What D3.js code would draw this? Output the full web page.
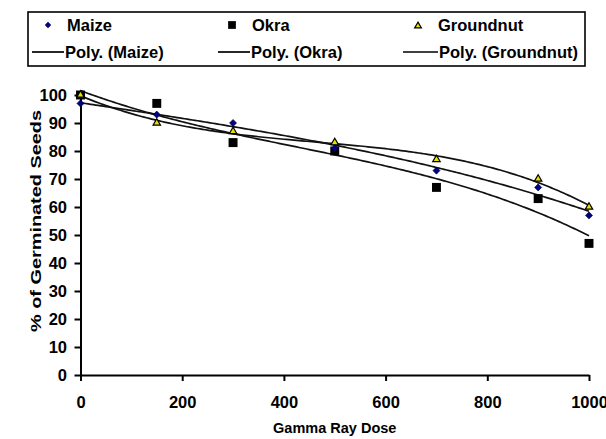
<!DOCTYPE html>
<html>
<head>
<meta charset="utf-8">
<script src="https://cdn.jsdelivr.net/npm/d3@7"></script>
<style>
  body { margin: 0; background: #fff; }
  text { font-family: "Liberation Sans", Arial, sans-serif; font-weight: bold; fill: #000; }
</style>
</head>
<body>
<div id="chart"></div>
<script>
const width = 606;
const height = 439;

// gamma ray dose (x) and % germinated seeds for each crop
const doses = [0, 150, 300, 500, 700, 900, 1000];
const maize = [97, 93, 90, 81, 73, 67, 57];
const okra = [100, 97, 83, 80, 67, 63, 47];
const groundnut = [100, 90, 87, 83, 77, 70, 60];
const yTicks = [0, 10, 20, 30, 40, 50, 60, 70, 80, 90, 100];
const xTicks = [0, 200, 400, 600, 800, 1000];

const svg = d3.select('#chart')
  .append('svg')
  .attr('width', width)
  .attr('height', height);

const x = d3.scaleLinear().domain([0, 1000]).range([80.5, 589]);
const y = d3.scaleLinear().domain([0, 100]).range([375, 95]);

// least squares polynomial, like Excel's "Poly." trendline
function polyFit(xs, ys, order) {
  const n = order + 1;
  const A = [];
  for (let i = 0; i < n; i++) {
    A.push(new Array(n + 1).fill(0));
  }
  xs.forEach((xv, k) => {
    const t = xv / 1000;
    for (let i = 0; i < n; i++) {
      for (let j = 0; j < n; j++) A[i][j] += Math.pow(t, i + j);
      A[i][n] += Math.pow(t, i) * ys[k];
    }
  });
  for (let i = 0; i < n; i++) {
    let p = i;
    for (let r = i + 1; r < n; r++) if (Math.abs(A[r][i]) > Math.abs(A[p][i])) p = r;
    [A[i], A[p]] = [A[p], A[i]];
    for (let r = 0; r < n; r++) {
      if (r === i) continue;
      const f = A[r][i] / A[i][i];
      for (let c = i; c <= n; c++) A[r][c] -= f * A[i][c];
    }
  }
  const coef = A.map((row, i) => row[n] / row[i]);
  return xv => coef.reduce((s, c, i) => s + c * Math.pow(xv / 1000, i), 0);
}

// axes
const yAxis = svg.append('g')
  .attr('transform', `translate(${x(0)},0)`)
  .call(d3.axisLeft(y).tickValues(yTicks).tickSize(6).tickSizeOuter(0).tickPadding(7.5));

const xAxis = svg.append('g')
  .attr('transform', `translate(0,${y(0)})`)
  .call(d3.axisBottom(x).tickValues(xTicks).tickFormat(d3.format('d'))
    .tickSize(6).tickSizeOuter(0).tickPadding(15));

[yAxis, xAxis].forEach(ax => {
  ax.select('.domain').attr('stroke', '#000').attr('stroke-width', 2);
  ax.selectAll('.tick line').attr('stroke', '#000').attr('stroke-width', 2);
  ax.selectAll('.tick text')
    .style('font-size', '16.5px')
    .style('font-weight', 'bold')
    .style('font-family', '"Liberation Sans", Arial, sans-serif')
    .attr('fill', '#000');
});

svg.append('text')
  .attr('x', (x(0) + x(1000)) / 2)
  .attr('y', 433)
  .attr('text-anchor', 'middle')
  .style('font-size', '14.5px')
  .text('Gamma Ray Dose');

svg.append('text')
  .attr('transform', 'translate(41,221) rotate(-90)')
  .attr('text-anchor', 'middle')
  .attr('textLength', 222)
  .attr('lengthAdjust', 'spacingAndGlyphs')
  .style('font-size', '15.5px')
  .text('% of Germinated Seeds');

// trendlines
const series = [
  { name: 'Maize', values: maize },
  { name: 'Okra', values: okra },
  { name: 'Groundnut', values: groundnut }
];

const curveX = d3.range(0, 1001, 5);
series.forEach(s => {
  const f = polyFit(doses, s.values, 3);
  svg.append('path')
    .attr('fill', 'none')
    .attr('stroke', '#111')
    .attr('stroke-width', 1.7)
    .attr('d', d3.line().x(d => x(d)).y(d => y(f(d)))(curveX));
});

// markers
const diamond = d3.symbol().type(d3.symbolDiamond2);
const square = d3.symbol().type(d3.symbolSquare);
const triangle = d3.symbol().type(d3.symbolTriangle);

svg.selectAll('.okra')
  .data(doses)
  .enter()
  .append('path')
  .attr('class', 'okra')
  .attr('transform', (d, i) => `translate(${x(d)},${y(okra[i])})`)
  .attr('d', square.size(80)())
  .attr('fill', '#000');

svg.selectAll('.groundnut')
  .data(doses)
  .enter()
  .append('path')
  .attr('class', 'groundnut')
  .attr('transform', (d, i) => `translate(${x(d)},${y(groundnut[i])})`)
  .attr('d', triangle.size(24)())
  .attr('fill', '#e8e000')
  .attr('stroke', '#000')
  .attr('stroke-width', 1.2);

svg.selectAll('.maize')
  .data(doses)
  .enter()
  .append('path')
  .attr('class', 'maize')
  .attr('transform', (d, i) => `translate(${x(d)},${y(maize[i])})`)
  .attr('d', diamond.size(32)())
  .attr('fill', '#000080')
  .attr('stroke', '#000033')
  .attr('stroke-width', 0.6);

// legend
const legend = svg.append('g');
legend.append('rect')
  .attr('x', 28)
  .attr('y', 12)
  .attr('width', 557)
  .attr('height', 54)
  .attr('fill', '#fff')
  .attr('stroke', '#000')
  .attr('stroke-width', 1.6);

const legendCols = [
  { name: 'Maize', mx: 48, tx: 67, lx1: 32, lx2: 64 },
  { name: 'Okra', mx: 232, tx: 252, lx1: 218, lx2: 250 },
  { name: 'Groundnut', mx: 418, tx: 438, lx1: 403, lx2: 438 }
];

legend.append('path')
  .attr('transform', `translate(${legendCols[0].mx},25)`)
  .attr('d', diamond.size(26)())
  .attr('fill', '#000080');
legend.append('path')
  .attr('transform', `translate(${legendCols[1].mx},25)`)
  .attr('d', square.size(60)())
  .attr('fill', '#000');
legend.append('path')
  .attr('transform', `translate(${legendCols[2].mx},26)`)
  .attr('d', triangle.size(20)())
  .attr('fill', '#e8e000')
  .attr('stroke', '#000')
  .attr('stroke-width', 1.2);

legendCols.forEach(c => {
  legend.append('text')
    .attr('x', c.tx)
    .attr('y', 31)
    .style('font-size', '16.5px')
    .text(c.name);
  legend.append('line')
    .attr('x1', c.lx1)
    .attr('x2', c.lx2)
    .attr('y1', 52)
    .attr('y2', 52)
    .attr('stroke', '#000')
    .attr('stroke-width', 1.7);
  legend.append('text')
    .attr('x', c.lx2 + 1)
    .attr('y', 58)
    .style('font-size', '16.5px')
    .text(`Poly. (${c.name})`);
});
</script>
</body>
</html>
